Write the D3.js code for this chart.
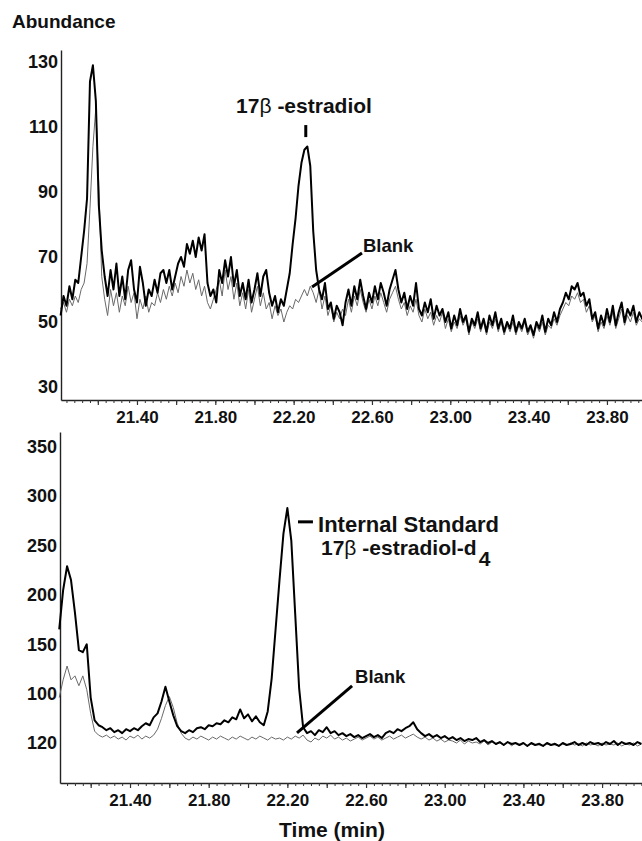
<!DOCTYPE html>
<html>
<head>
<meta charset="utf-8">
<script src="https://cdn.jsdelivr.net/npm/d3@7"></script>
<style>
  body { margin: 0; background: #fff; }
  text { font-family: "Liberation Sans", Arial, Helvetica, sans-serif; fill: #111; }
</style>
</head>
<body>
<script>
// ---------- DATA ----------
// Top panel (17β-estradiol ion trace): sampling grid start / step (min)
const topStart = 21.01, topStep = 0.015;
const topSample = [
52,58,55,61,57,63,62,70,78,88,
124,129,118,86,72,64,58,66,60,68,
58,64,57,66,69,60,56,67,62,55,
60,58,63,59,65,66,62,66,60,64,
68,70,67,74,71,75,70,76,72,77,
62,58,60,56,66,62,69,64,70,61,
66,58,62,57,63,56,60,65,58,64,
66,59,55,58,53,57,55,60,65,74,
82,92,99,103,104,98,78,66,60,57,
62,54,56,51,55,53,49,56,60,55,
61,57,63,58,54,59,56,61,57,62,
59,55,60,63,66,60,56,59,54,58,
55,62,54,52,56,53,57,51,55,52,
54,50,53,48,52,49,54,50,52,47,
51,49,53,48,51,47,52,49,53,48,
51,47,50,48,52,47,50,48,51,47,
49,46,50,48,52,47,51,49,53,50,
54,56,59,57,61,60,62,58,59,55,
57,51,53,48,52,49,54,50,55,49,
53,56,50,54,52,55,50,53,51,52
];
const topBlank = [
54,56,53,57,55,58,56,60,62,68,
85,104,116,92,64,57,52,60,55,59,
53,58,55,61,56,59,51,57,54,58,
53,56,55,59,56,60,57,61,58,62,
59,64,61,66,62,65,60,63,58,61,
56,54,57,60,63,58,66,60,64,57,
62,55,59,54,60,53,57,61,55,59,
54,56,51,55,52,54,50,53,55,54,
57,56,58,60,58,61,59,56,60,54,
58,52,55,50,53,51,54,52,57,53,
58,55,60,56,53,57,54,58,55,59,
56,53,57,59,61,57,54,56,52,55,
53,57,52,50,54,51,53,49,52,50,
53,48,51,47,50,48,52,49,51,46,
50,48,51,47,50,46,50,48,51,47,
50,46,49,47,50,46,49,47,50,46,
48,45,49,47,50,46,49,48,51,49,
52,54,56,55,58,57,59,56,57,53,
55,50,52,47,50,48,52,49,53,48,
51,54,49,52,50,53,49,51,50,51
];

// Bottom panel (internal standard ion trace)
const botStart = 21.04, botStep = 0.02;
const botSample = [
165,205,229,215,182,144,142,150,96,73,
68,66,63,65,61,63,60,64,62,65,
63,67,70,68,76,80,92,107,92,78,
67,62,60,63,61,65,66,64,68,67,
70,69,73,71,76,74,84,75,79,72,
77,71,68,82,115,165,215,262,288,255,
180,105,66,60,62,58,63,61,66,60,
62,58,60,57,59,56,58,55,57,59,
56,58,55,60,62,60,64,62,65,67,
71,64,60,57,59,56,58,55,57,54,
56,53,55,52,54,53,55,51,53,50,
52,49,51,48,51,49,50,48,50,47,
50,48,49,47,50,48,49,47,50,48,
49,51,48,50,48,51,49,50,48,51,
49,52,48,51,49,50,48,51,49
];
const botBlank = [
96,114,128,114,118,108,118,104,80,62,
58,56,58,55,57,54,56,53,57,55,
58,54,57,55,58,64,75,88,97,86,
70,60,55,53,56,54,57,55,53,56,
54,57,55,53,56,54,57,55,53,56,
54,57,55,53,56,54,55,53,56,54,
57,55,58,53,51,55,53,57,55,58,
54,56,53,55,52,54,56,53,55,57,
54,56,53,55,57,54,56,58,55,57,
59,56,54,56,53,55,52,54,51,53,
52,50,53,49,52,50,51,49,52,48,
51,49,50,48,51,47,50,48,50,47,
49,48,50,47,49,48,50,47,49,48,
50,48,49,47,50,48,49,47,50,48,
49,48,50,47,49,48,50,47,49
];

// Tick values / labels
const xMajorTicks = [21.2,21.4,21.6,21.8,22.0,22.2,22.4,22.6,22.8,23.0,23.2,23.4,23.6,23.8];
const xTickLabels = ["21.40","21.80","22.20","22.60","23.00","23.40","23.80"];
const topYTicks = [130,110,90,70,50,30];
const topYLabels = ["130","110","90","70","50","30"];
const botYTicks = [350,300,250,200,150,100,50];
const botYLabels = ["350","300","250","200","150","100","120"];

// ---------- LAYOUT ----------
const W = 642, H = 841;
const svg = d3.select("body").append("svg").attr("width", W).attr("height", H);
const FONT = "'Liberation Sans', Arial, Helvetica, sans-serif";

const xTop = d3.scaleLinear().domain([21.012, 23.979]).range([61, 642]);
const yTop = d3.scaleLinear().domain([26, 133.7]).range([400, 50]);
const xBot = d3.scaleLinear().domain([21.044, 24.003]).range([60, 642]);
const yBot = d3.scaleLinear().domain([9.5, 365]).range([783, 432]);

function minorTicks(x) {
  const d = x.domain(); const out = [];
  for (let k = Math.ceil(d[0] / 0.04); k * 0.04 <= d[1]; k++) out.push(+(k * 0.04).toFixed(2));
  return out;
}

function drawPanel(x, y, yTicks, yLabels, start, step, sample, blank) {
  const g = svg.append("g");
  // x axis: minor ticks
  const xAxisMinor = d3.axisBottom(x).tickValues(minorTicks(x)).tickSize(3).tickFormat("").tickSizeOuter(0);
  const gm = g.append("g").attr("transform", `translate(0,${y.range()[0]})`).call(xAxisMinor);
  gm.select(".domain").attr("stroke", "#222").attr("stroke-width", 1.4);
  gm.selectAll(".tick line").attr("stroke", "#333").attr("stroke-width", 1);
  // x axis: major ticks + labels
  const labelMap = new Map(xTickLabels.map(l => [l, l]));
  const xAxisMajor = d3.axisBottom(x).tickValues(xMajorTicks).tickSize(5).tickPadding(6)
    .tickFormat(v => { const s = v.toFixed(2); return labelMap.has(s) ? labelMap.get(s) : ""; });
  const ga = g.append("g").attr("transform", `translate(0,${y.range()[0]})`).call(xAxisMajor);
  ga.select(".domain").remove();
  ga.selectAll(".tick line").attr("stroke", "#333").attr("stroke-width", 1.2);
  ga.selectAll("text").attr("font-family", FONT).attr("font-size", 17).attr("font-weight", "bold").attr("fill", "#111");
  // y axis
  const yAxis = d3.axisLeft(y).tickValues(yTicks).tickSize(0).tickPadding(3)
    .tickFormat((v, i) => yLabels[i]).tickSizeOuter(0);
  const gy = g.append("g").attr("transform", `translate(${x.range()[0]},0)`).call(yAxis);
  gy.select(".domain").attr("stroke", "#222").attr("stroke-width", 1.4);
  gy.selectAll("text").attr("font-family", FONT).attr("font-size", 18).attr("font-weight", "bold").attr("fill", "#111");

  const line = d3.line().x((d, i) => x(start + i * step)).y(d => y(d));
  g.append("path").datum(blank).attr("d", line).attr("fill", "none")
    .attr("stroke", "#6a6a6a").attr("stroke-width", 1).attr("stroke-linejoin", "round");
  g.append("path").datum(sample).attr("d", line).attr("fill", "none")
    .attr("stroke", "#000").attr("stroke-width", 2).attr("stroke-linejoin", "round");
  return g;
}

drawPanel(xTop, yTop, topYTicks, topYLabels, topStart, topStep, topSample, topBlank);
drawPanel(xBot, yBot, botYTicks, botYLabels, botStart, botStep, botSample, botBlank);

// ---------- TEXT & ANNOTATIONS ----------
svg.append("text").attr("x", 12).attr("y", 28).attr("font-size", 19).attr("font-weight", "bold").text("Abundance");

svg.append("text").attr("x", 332).attr("y", 837).attr("text-anchor", "middle")
  .attr("font-size", 21).attr("font-weight", "bold").text("Time (min)");

// top: 17β-estradiol label + marker
const estr = svg.append("text").attr("x", xTop(22.253)).attr("y", yTop(114.3)).attr("text-anchor", "middle")
  .attr("font-size", 21).attr("font-weight", "bold");
estr.append("tspan").text("17");
estr.append("tspan").attr("font-weight", "normal").text("β");
estr.append("tspan").text(" -estradiol");
svg.append("line").attr("x1", xTop(22.262)).attr("x2", xTop(22.262))
  .attr("y1", yTop(110.6)).attr("y2", yTop(106.9)).attr("stroke", "#000").attr("stroke-width", 3);

// top: Blank
svg.append("line").attr("x1", xTop(22.294)).attr("y1", yTop(60.8)).attr("x2", xTop(22.549)).attr("y2", yTop(71.2))
  .attr("stroke", "#000").attr("stroke-width", 3);
svg.append("text").attr("x", xTop(22.554)).attr("y", yTop(71.5)).attr("font-size", 18.5).attr("font-weight", "bold").text("Blank");

// bottom: Internal Standard
svg.append("line").attr("x1", xBot(22.254)).attr("x2", xBot(22.330)).attr("y1", yBot(274)).attr("y2", yBot(274))
  .attr("stroke", "#000").attr("stroke-width", 3);
svg.append("text").attr("x", xBot(22.356)).attr("y", yBot(263.9)).attr("font-size", 22).attr("font-weight", "bold").text("Internal Standard");
const isd = svg.append("text").attr("x", xBot(22.371)).attr("y", yBot(240.6)).attr("font-size", 21).attr("font-weight", "bold");
isd.append("tspan").text("17");
isd.append("tspan").attr("font-weight", "normal").text("β");
isd.append("tspan").text(" -estradiol-d");
isd.append("tspan").attr("dy", 11).attr("dx", 2).text("4");

// bottom: Blank
svg.append("line").attr("x1", xBot(22.249)).attr("y1", yBot(60.2)).attr("x2", xBot(22.529)).attr("y2", yBot(107.9))
  .attr("stroke", "#000").attr("stroke-width", 3);
svg.append("text").attr("x", xBot(22.544)).attr("y", yBot(110.9)).attr("font-size", 18.5).attr("font-weight", "bold").text("Blank");
</script>
</body>
</html>
